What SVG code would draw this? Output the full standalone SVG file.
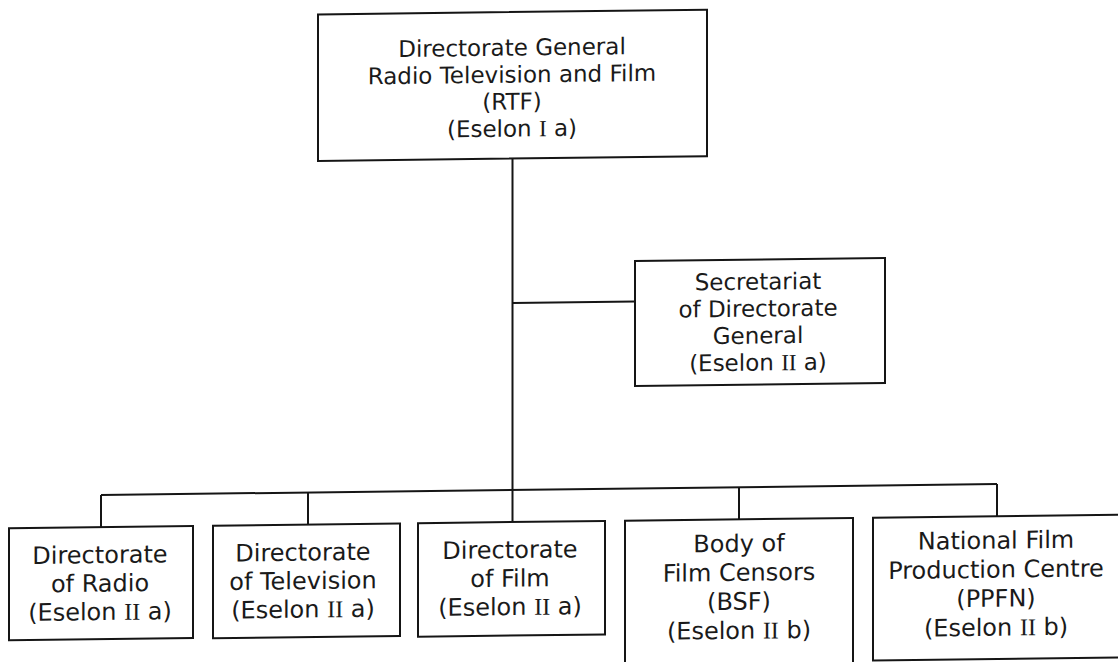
<svg xmlns="http://www.w3.org/2000/svg" width="1118" height="662" viewBox="0 0 1118 662">
<style>
.box{fill:none;stroke:#151515;stroke-width:2}
.ln{fill:none;stroke:#151515;stroke-width:2}
text{font-family:"DejaVu Sans","Liberation Sans",sans-serif;font-size:24px;fill:#1a1a1a;text-anchor:middle}
.sm{font-size:23px}
.rn{font-family:"Liberation Serif",serif}
</style>
<rect x="0" y="0" width="1118" height="662" fill="#ffffff"/>
<g transform="matrix(1,-0.01222,0,1,0,6.83)">
<g id="connectors">
<path class="ln" d="M512.5 158 V521.5"/>
<path class="ln" d="M512.5 302.5 H635"/>
<path class="ln" d="M101 489.4 H997"/>
<path class="ln" d="M101 489.4 V521.5"/>
<path class="ln" d="M308 489.4 V521.5"/>
<path class="ln" d="M739 489.4 V521.5"/>
<path class="ln" d="M997 489.4 V521.5"/>
</g>
<g id="rtf">
<rect class="box" x="318" y="11.5" width="389" height="146.5"/>
<text class="sm" x="512" y="55">Directorate General</text>
<text class="sm" x="512" y="82">Radio Television and Film</text>
<text class="sm" x="512" y="109">(RTF)</text>
<text class="sm" x="512" y="136">(Eselon <tspan class="rn">I</tspan> a)</text>
</g>
<g id="secretariat">
<rect class="box" x="635" y="262" width="250" height="125"/>
<text class="sm" x="758" y="292">Secretariat</text>
<text class="sm" x="758" y="319">of Directorate</text>
<text class="sm" x="758" y="346">General</text>
<text class="sm" x="758" y="373">(Eselon <tspan class="rn">II</tspan> a)</text>
</g>
<g id="radio">
<rect class="box" x="9" y="521.5" width="184" height="112"/>
<text x="100" y="557.5">Directorate</text>
<text x="100" y="586">of Radio</text>
<text x="100" y="614.5">(Eselon <tspan class="rn">II</tspan> a)</text>
</g>
<g id="television">
<rect class="box" x="213" y="521.5" width="187" height="112.5"/>
<text x="303" y="557.5">Directorate</text>
<text x="303" y="586">of Television</text>
<text x="303" y="614.5">(Eselon <tspan class="rn">II</tspan> a)</text>
</g>
<g id="film">
<rect class="box" x="418" y="521.5" width="187" height="113.5"/>
<text x="510" y="557.5">Directorate</text>
<text x="510" y="586">of Film</text>
<text x="510" y="614.5">(Eselon <tspan class="rn">II</tspan> a)</text>
</g>
<g id="bsf">
<rect class="box" x="625" y="521.5" width="228" height="160"/>
<text x="739" y="554">Body of</text>
<text x="739" y="583">Film Censors</text>
<text x="739" y="612">(BSF)</text>
<text x="739" y="641">(Eselon <tspan class="rn">II</tspan> b)</text>
</g>
<g id="ppfn">
<rect class="box" x="873" y="521.5" width="260" height="142.9"/>
<text x="996" y="554">National Film</text>
<text x="996" y="583">Production Centre</text>
<text x="996" y="612">(PPFN)</text>
<text x="996" y="641">(Eselon <tspan class="rn">II</tspan> b)</text>
</g>
</g>
</svg>
